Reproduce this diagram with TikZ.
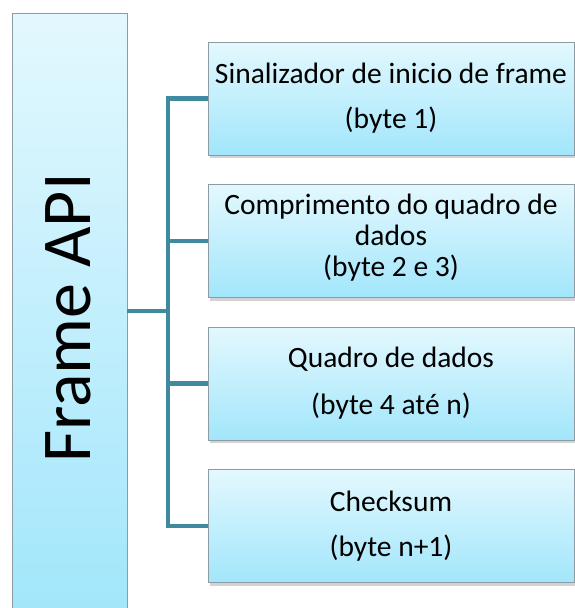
\documentclass[tikz,border=0pt]{standalone}
\usepackage{fontspec}
\setmainfont{Carlito}
\usetikzlibrary{shadows,positioning}
\definecolor{boxtop}{HTML}{E3F8FE}
\definecolor{boxbot}{HTML}{A2E6FB}
\definecolor{boxline}{HTML}{8C9CA2}
\definecolor{wire}{HTML}{3F8A9F}
\tikzstyle{every picture}+=[x=1pt,y=-1pt]
\tikzstyle{every picture}+=[node distance=142.5pt]
\tikzstyle{field}+=[draw=boxline, line width=0.8pt]
\tikzstyle{field}+=[top color=boxtop, bottom color=boxbot]
\tikzstyle{field}+=[minimum width=366pt, minimum height=113pt]
\tikzstyle{field}+=[align=center, inner sep=0pt]
\tikzstyle{field}+=[font=\fontsize{29.5}{35}\selectfont]
\tikzstyle{field}+=[drop shadow={shadow xshift=2pt, shadow yshift=-3pt, opacity=.35}]
\tikzstyle{frame}+=[draw=boxline, line width=0.8pt]
\tikzstyle{frame}+=[top color=boxtop, bottom color=boxbot]
\tikzstyle{frame}+=[minimum width=115pt, minimum height=600pt, inner sep=0pt]
\tikzstyle{link}=[draw=wire, line width=4.5pt, line join=miter]
\begin{document}
\begin{tikzpicture}
\useasboundingbox (0,0) rectangle (574,608);
\node[frame] (api) at (69.5,313) {};
\node[font=\fontsize{70}{80}\selectfont, rotate=90] (apilabel) at (68,318) {Frame API};

\node[field] (start) at (391,98.5) {Sinalizador de inicio de frame\\[10pt](byte 1)};
\node[field, font=\fontsize{29.5}{31}\selectfont] (len) [below of=start]
   {Comprimento do quadro de\\dados\\(byte 2 e 3)\\[-19pt]};
\node[field] (data) [below of=len] {Quadro de dados\\[12pt](byte 4 até n)};
\node[field] (sum) [below of=data] {Checksum\\[10pt](byte n+1)};

\coordinate (bus) at (168,311);
\path[link]
   (api.east |- bus) -- (bus)
   (bus) |- (start.west)
   (bus) |- (len.west)
   (bus) |- (data.west)
   (bus) |- (sum.west)
;
\end{tikzpicture}
\end{document}
